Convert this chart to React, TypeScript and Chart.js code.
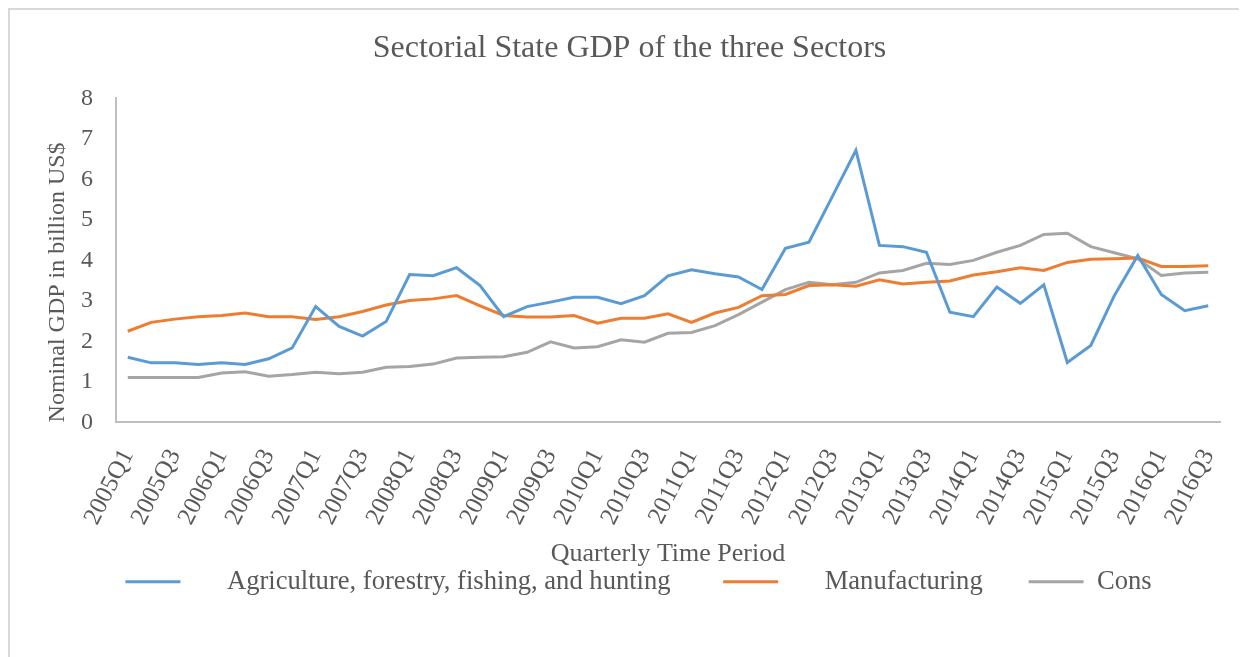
import React, { useEffect, useRef } from "react";
import { Chart, registerables } from "chart.js";

Chart.register(...registerables);

const quarters = [
  "2005Q1","2005Q2","2005Q3","2005Q4",
  "2006Q1","2006Q2","2006Q3","2006Q4",
  "2007Q1","2007Q2","2007Q3","2007Q4",
  "2008Q1","2008Q2","2008Q3","2008Q4",
  "2009Q1","2009Q2","2009Q3","2009Q4",
  "2010Q1","2010Q2","2010Q3","2010Q4",
  "2011Q1","2011Q2","2011Q3","2011Q4",
  "2012Q1","2012Q2","2012Q3","2012Q4",
  "2013Q1","2013Q2","2013Q3","2013Q4",
  "2014Q1","2014Q2","2014Q3","2014Q4",
  "2015Q1","2015Q2","2015Q3","2015Q4",
  "2016Q1","2016Q2","2016Q3",
];

const agriculture = [
  1.61, 1.47, 1.47, 1.43, 1.47, 1.43, 1.57, 1.84, 2.86, 2.37, 2.13, 2.49,
  3.65, 3.62, 3.82, 3.38, 2.61, 2.86, 2.97, 3.09, 3.09, 2.93, 3.13, 3.62,
  3.77, 3.67, 3.59, 3.28, 4.3, 4.45, 5.58, 6.72, 4.37, 4.34, 4.2, 2.72,
  2.61, 3.34, 2.94, 3.4, 1.48, 1.9, 3.13, 4.12, 3.16, 2.76, 2.88,
];

const manufacturing = [
  2.25, 2.47, 2.55, 2.61, 2.64, 2.7, 2.61, 2.61, 2.54, 2.61, 2.74, 2.9,
  3.01, 3.05, 3.13, 2.88, 2.64, 2.6, 2.6, 2.64, 2.45, 2.57, 2.57, 2.68,
  2.47, 2.7, 2.84, 3.13, 3.16, 3.38, 3.4, 3.36, 3.52, 3.42, 3.46, 3.49,
  3.64, 3.72, 3.82, 3.75, 3.95, 4.03, 4.04, 4.06, 3.85, 3.85, 3.87,
];

const cons = [
  1.11, 1.11, 1.11, 1.11, 1.22, 1.25, 1.14, 1.18, 1.24, 1.2, 1.24, 1.36,
  1.38, 1.44, 1.59, 1.61, 1.62, 1.73, 1.99, 1.84, 1.87, 2.04, 1.98, 2.2,
  2.22, 2.39, 2.66, 2.97, 3.28, 3.46, 3.4, 3.46, 3.69, 3.75, 3.93, 3.9,
  4.0, 4.2, 4.37, 4.64, 4.67, 4.34, 4.19, 4.04, 3.63, 3.69, 3.71,
];

const seriesNames = ["Agriculture, forestry, fishing, and hunting", "Manufacturing", "Cons"];
const seriesColors = ["#5b9bd5", "#ed7d31", "#a5a5a5"];
const legendLead = ["     ", "     ", ""];
const legendTrail = ["       ", "      ", ""];

const FONT = "'Liberation Serif', 'Times New Roman', serif";
const TEXT = "#595959";

const legendShift = {
  id: "legendShift",
  afterLayout(chart: any) {
    if (chart.legend) chart.legend.left += 18;
  },
};

export default function App() {
  const ref = useRef<HTMLCanvasElement | null>(null);

  useEffect(() => {
    if (!ref.current) return;
    const seriesData = [agriculture, manufacturing, cons];
    const chart = new Chart(ref.current, {
      type: "line",
      data: {
        labels: quarters,
        datasets: seriesNames.map((name, i) => ({
          label: name,
          data: seriesData[i],
          borderColor: seriesColors[i],
          backgroundColor: seriesColors[i],
          borderWidth: 3,
          pointRadius: 0,
          tension: 0,
        })),
      },
      plugins: [legendShift],
      options: {
        animation: false,
        responsive: false,
        maintainAspectRatio: false,
        layout: { padding: { left: 29, right: 27, top: 0, bottom: 52 } },
        plugins: {
          tooltip: { enabled: false },
          title: {
            display: true,
            text: "Sectorial State GDP of the three Sectors",
            color: TEXT,
            font: { family: FONT, size: 32, weight: "normal" },
            padding: { top: 19, bottom: 31 },
          },
          legend: {
            position: "bottom",
            labels: {
              color: TEXT,
              font: { family: FONT, size: 26.6 },
              usePointStyle: true,
              pointStyle: "line",
              pointStyleWidth: 55,
              padding: 6,
              generateLabels: (c) =>
                c.data.datasets.map((ds, i) => ({
                  text: legendLead[i] + (ds.label as string) + legendTrail[i],
                  fillStyle: seriesColors[i],
                  strokeStyle: seriesColors[i],
                  lineWidth: 3,
                  pointStyle: "line",
                  hidden: false,
                  datasetIndex: i,
                  fontColor: TEXT,
                })),
            },
          },
        },
        scales: {
          x: {
            offset: true,
            grid: { display: false, drawTicks: false },
            border: { display: true, color: "#bfbfbf", width: 2 },
            ticks: {
              autoSkip: false,
              maxRotation: 63,
              minRotation: 63,
              padding: 22,
              color: TEXT,
              font: { family: FONT, size: 25 },
              callback: (_v, idx) => (idx % 2 === 0 ? quarters[idx] : ""),
            },
            title: {
              display: true,
              text: "Quarterly Time Period",
              color: TEXT,
              font: { family: FONT, size: 26, lineHeight: 0.65 },
              padding: { top: 0, bottom: 0 },
            },
            afterFit: (scale: any) => {
              scale.height = 140;
              scale.paddingLeft = 0;
              scale.paddingRight = 0;
            },
          },
          y: {
            min: 0,
            max: 8,
            grid: { display: false, drawTicks: false },
            border: { display: true, color: "#bfbfbf", width: 2 },
            ticks: {
              stepSize: 1,
              padding: 23,
              color: TEXT,
              font: { family: FONT, size: 24 },
            },
            title: {
              display: true,
              align: "start",
              text: "Nominal GDP in billion US$",
              color: TEXT,
              font: { family: FONT, size: 24 },
              padding: { top: 4, bottom: 0 },
            },
            afterFit: (scale: any) => {
              scale.width = 77;
            },
          },
        },
      },
    });
    return () => chart.destroy();
  }, []);

  return (
    <div
      style={{
        width: 1237,
        height: 647,
        borderTop: "2px solid #d9d9d9",
        borderLeft: "2px solid #d9d9d9",
        background: "#fff",
        overflow: "hidden",
      }}
    >
      <canvas ref={ref} width={1237} height={647} style={{ display: "block" }} />
    </div>
  );
}
